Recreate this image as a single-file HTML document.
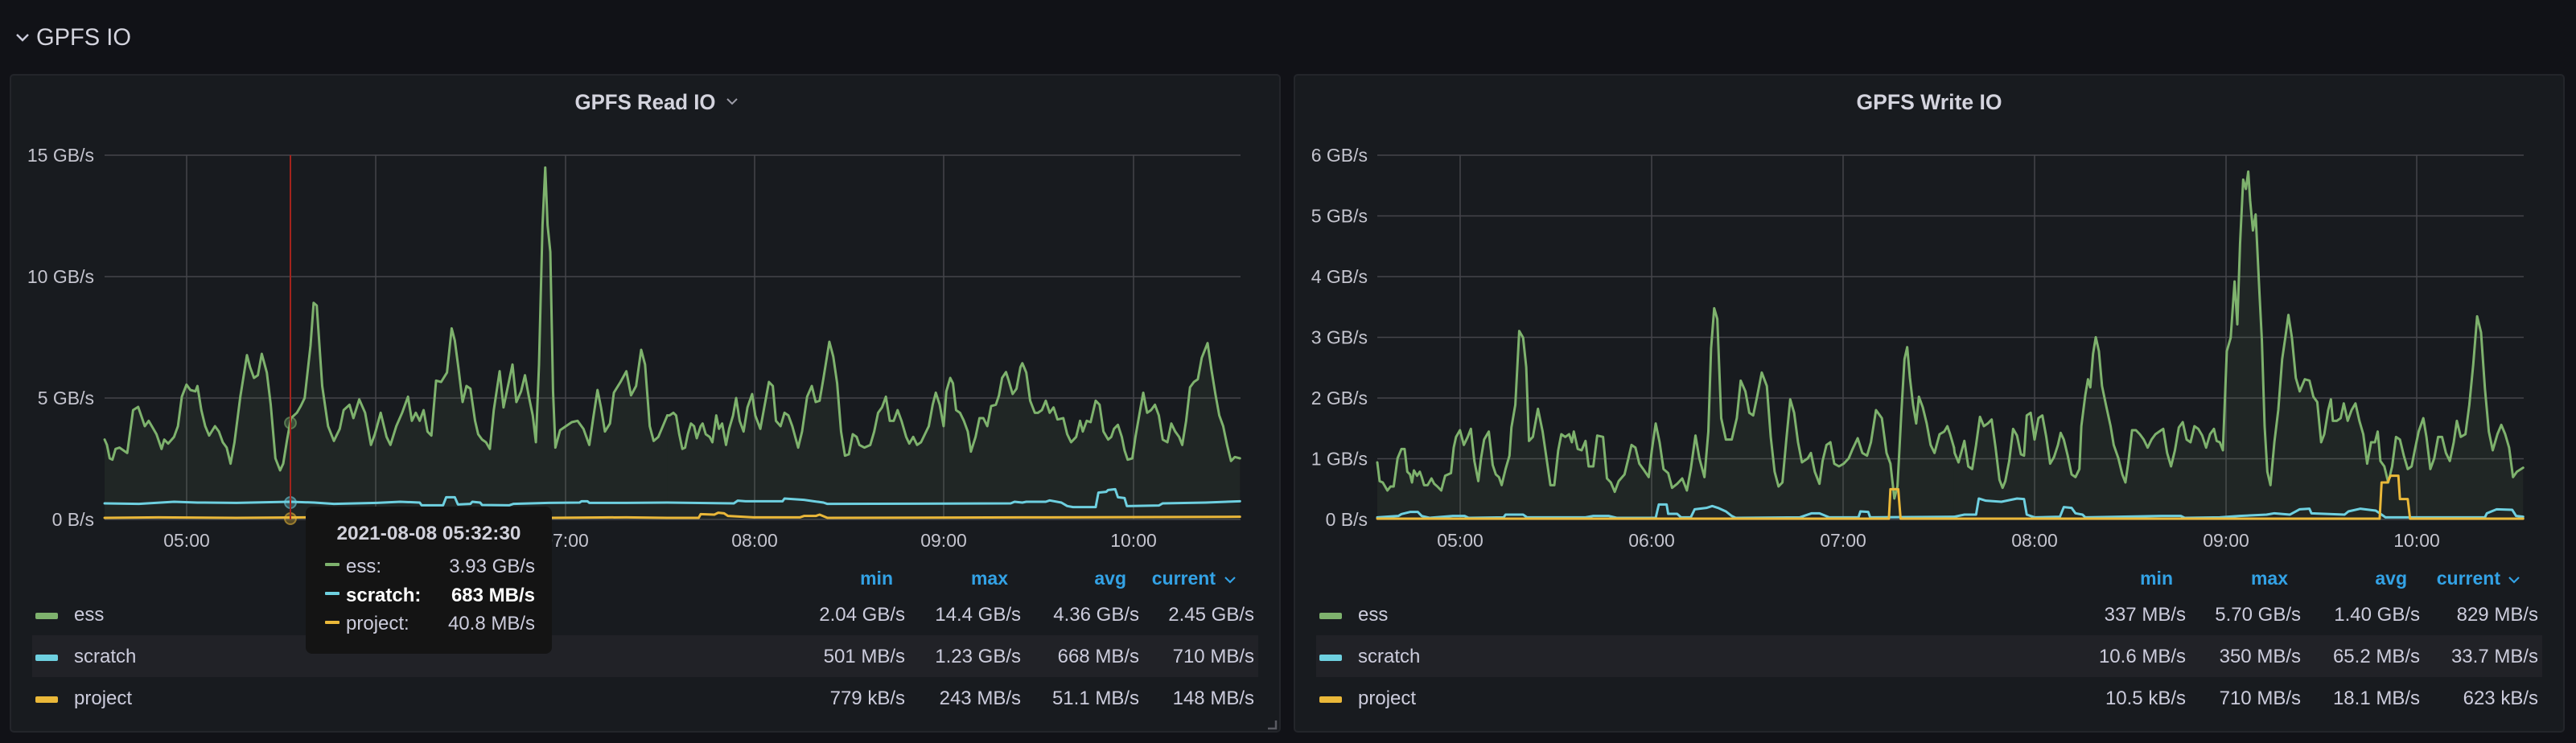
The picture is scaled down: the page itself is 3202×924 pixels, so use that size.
<!DOCTYPE html>
<html>
<head>
<meta charset="utf-8">
<style>
html,body{margin:0;padding:0;background:#111217;}
body{width:3202px;height:924px;overflow:hidden;}
svg{display:block;}
text{font-family:"Liberation Sans",sans-serif;}
.ax{font-size:23px;fill:#c4c4ce;}
.lg{font-size:24px;fill:#ccccdc;}
.hd{font-size:23px;font-weight:bold;fill:#33a2e5;}
.grid{stroke:#44454a;stroke-width:1.5;}
.ln{fill:none;stroke-width:3;stroke-linejoin:round;stroke-linecap:round;vector-effect:non-scaling-stroke;}
</style>
</head>
<body>
<svg width="3202" height="924" viewBox="0 0 3202 924" xmlns="http://www.w3.org/2000/svg">
<rect x="0" y="0" width="3202" height="924" fill="#111217"/>

<!-- Section header -->
<polyline points="21,43 28,50 35,43" fill="none" stroke="#ccccdc" stroke-width="2.5"/>
<text x="45" y="56" font-size="30" fill="#d4d4de" textLength="118" lengthAdjust="spacingAndGlyphs">GPFS IO</text>

<!-- Panels -->
<rect x="13" y="93" width="1578" height="817" rx="4" fill="#181b1f" stroke="#23252a" stroke-width="2"/>
<rect x="1609" y="93" width="1578" height="817" rx="4" fill="#181b1f" stroke="#23252a" stroke-width="2"/>

<!-- Panel titles -->
<text x="802" y="136" text-anchor="middle" font-size="27" font-weight="bold" fill="#d4d4de" textLength="175" lengthAdjust="spacingAndGlyphs">GPFS Read IO</text>
<polyline points="904,123 910,129 916,123" fill="none" stroke="#9d9da8" stroke-width="2"/>
<text x="2398" y="136" text-anchor="middle" font-size="27" font-weight="bold" fill="#d4d4de" textLength="181" lengthAdjust="spacingAndGlyphs">GPFS Write IO</text>

<!-- LEFT grid -->
<g class="grid">
<line x1="130" y1="193" x2="1542" y2="193"/>
<line x1="130" y1="344" x2="1542" y2="344"/>
<line x1="130" y1="495" x2="1542" y2="495"/>
<line x1="130" y1="646" x2="1542" y2="646"/>
<line x1="232" y1="193" x2="232" y2="646"/>
<line x1="467" y1="193" x2="467" y2="646"/>
<line x1="703" y1="193" x2="703" y2="646"/>
<line x1="938" y1="193" x2="938" y2="646"/>
<line x1="1173" y1="193" x2="1173" y2="646"/>
<line x1="1409" y1="193" x2="1409" y2="646"/>
</g>
<!-- RIGHT grid -->
<g class="grid">
<line x1="1712" y1="193" x2="3137" y2="193"/>
<line x1="1712" y1="268.5" x2="3137" y2="268.5"/>
<line x1="1712" y1="344" x2="3137" y2="344"/>
<line x1="1712" y1="419.5" x2="3137" y2="419.5"/>
<line x1="1712" y1="495" x2="3137" y2="495"/>
<line x1="1712" y1="570.5" x2="3137" y2="570.5"/>
<line x1="1712" y1="646" x2="3137" y2="646"/>
<line x1="1815" y1="193" x2="1815" y2="646"/>
<line x1="2053" y1="193" x2="2053" y2="646"/>
<line x1="2291" y1="193" x2="2291" y2="646"/>
<line x1="2529" y1="193" x2="2529" y2="646"/>
<line x1="2767" y1="193" x2="2767" y2="646"/>
<line x1="3004" y1="193" x2="3004" y2="646"/>
</g>

<!-- Y labels left -->
<g class="ax" text-anchor="end">
<text x="117" y="201">15 GB/s</text>
<text x="117" y="352">10 GB/s</text>
<text x="117" y="503">5 GB/s</text>
<text x="117" y="654">0 B/s</text>
</g>
<!-- Y labels right -->
<g class="ax" text-anchor="end">
<text x="1700" y="201">6 GB/s</text>
<text x="1700" y="276.5">5 GB/s</text>
<text x="1700" y="352">4 GB/s</text>
<text x="1700" y="427.5">3 GB/s</text>
<text x="1700" y="503">2 GB/s</text>
<text x="1700" y="578.5">1 GB/s</text>
<text x="1700" y="654">0 B/s</text>
</g>

<!-- X labels -->
<g class="ax" text-anchor="middle">
<text x="232" y="680">05:00</text>
<text x="467" y="680">06:00</text>
<text x="703" y="680">07:00</text>
<text x="938" y="680">08:00</text>
<text x="1173" y="680">09:00</text>
<text x="1409" y="680">10:00</text>
<text x="1815" y="680">05:00</text>
<text x="2053" y="680">06:00</text>
<text x="2291" y="680">07:00</text>
<text x="2529" y="680">08:00</text>
<text x="2767" y="680">09:00</text>
<text x="3004" y="680">10:00</text>
</g>

<!-- LEFT series -->
<g transform="translate(100,170) scale(0.48469,0.33333)">
<path fill="#7eb26d" fill-opacity="0.08" d="M62,1130 L68,1150 L75,1200 L82,1205 L90,1165 L100,1160 L120,1180 L135,1020 L148,1008 L158,1050 L165,1080 L175,1060 L185,1085 L195,1110 L208,1165 L215,1130 L225,1145 L240,1120 L250,1080 L260,970 L272,925 L282,945 L295,950 L300,930 L310,1020 L320,1080 L330,1115 L345,1080 L355,1100 L365,1140 L375,1160 L385,1220 L395,1140 L410,970 L427,815 L435,860 L445,900 L455,890 L465,810 L478,880 L488,1000 L500,1200 L512,1245 L520,1220 L530,1130 L540,1050 L555,1030 L565,1005 L575,975 L590,780 L598,620 L606,630 L620,930 L635,1080 L650,1135 L665,1090 L675,1020 L690,1000 L700,1050 L715,980 L730,1030 L745,1150 L755,1110 L770,1030 L785,1120 L795,1150 L810,1080 L825,1030 L840,970 L850,1060 L860,1030 L870,1060 L880,1020 L890,1100 L900,1115 L912,910 L925,915 L940,880 L952,715 L960,760 L970,870 L980,990 L990,930 L1000,940 L1012,1060 L1020,1110 L1030,1130 L1040,1140 L1050,1165 L1060,1020 L1075,875 L1085,1010 L1095,940 L1108,850 L1118,990 L1130,950 L1140,890 L1150,970 L1160,1040 L1168,1140 L1176,850 L1185,330 L1192,115 L1198,330 L1205,430 L1212,950 L1218,1160 L1230,1095 L1245,1080 L1260,1065 L1275,1060 L1290,1090 L1305,1150 L1315,1050 L1326,945 L1335,1010 L1345,1100 L1358,1070 L1368,955 L1385,915 L1400,875 L1412,965 L1425,930 L1438,795 L1448,850 L1460,1080 L1470,1135 L1482,1120 L1495,1075 L1505,1040 L1505,1428 L62,1428 Z"/>
<path class="ln" stroke="#7eb26d" d="M62,1130 L68,1150 L75,1200 L82,1205 L90,1165 L100,1160 L120,1180 L135,1020 L148,1008 L158,1050 L165,1080 L175,1060 L185,1085 L195,1110 L208,1165 L215,1130 L225,1145 L240,1120 L250,1080 L260,970 L272,925 L282,945 L295,950 L300,930 L310,1020 L320,1080 L330,1115 L345,1080 L355,1100 L365,1140 L375,1160 L385,1220 L395,1140 L410,970 L427,815 L435,860 L445,900 L455,890 L465,810 L478,880 L488,1000 L500,1200 L512,1245 L520,1220 L530,1130 L540,1050 L555,1030 L565,1005 L575,975 L590,780 L598,620 L606,630 L620,930 L635,1080 L650,1135 L665,1090 L675,1020 L690,1000 L700,1050 L715,980 L730,1030 L745,1150 L755,1110 L770,1030 L785,1120 L795,1150 L810,1080 L825,1030 L840,970 L850,1060 L860,1030 L870,1060 L880,1020 L890,1100 L900,1115 L912,910 L925,915 L940,880 L952,715 L960,760 L970,870 L980,990 L990,930 L1000,940 L1012,1060 L1020,1110 L1030,1130 L1040,1140 L1050,1165 L1060,1020 L1075,875 L1085,1010 L1095,940 L1108,850 L1118,990 L1130,950 L1140,890 L1150,970 L1160,1040 L1168,1140 L1176,850 L1185,330 L1192,115 L1198,330 L1205,430 L1212,950 L1218,1160 L1230,1095 L1245,1080 L1260,1065 L1275,1060 L1290,1090 L1305,1150 L1315,1050 L1326,945 L1335,1010 L1345,1100 L1358,1070 L1368,955 L1385,915 L1400,875 L1412,965 L1425,930 L1438,795 L1448,850 L1460,1080 L1470,1135 L1482,1120 L1495,1075 L1505,1040"/>
<path class="ln" stroke="#6ed0e0" d="M62,1368 L150,1370 L240,1362 L300,1365 L400,1366 L538,1362 L600,1365 L650,1370 L760,1366 L820,1362 L870,1365 L875,1375 L930,1375 L938,1345 L960,1345 L968,1372 L1000,1370 L1005,1362 L1025,1365 L1030,1374 L1100,1375 L1110,1370 L1200,1366 L1280,1365 L1285,1360 L1300,1360 L1305,1366 L1400,1366 L1505,1365"/>
<path class="ln" stroke="#eab839" d="M62,1422 L200,1420 L400,1422 L600,1420 L800,1422 L1000,1420 L1200,1422 L1400,1420 L1505,1422"/>
<g transform="translate(1485.6,0)">
<path fill="#7eb26d" fill-opacity="0.08" d="M19.4,1040 L25,1040 L35,1030 L42,1040 L50,1110 L58,1165 L65,1160 L72,1110 L80,1070 L88,1080 L95,1125 L105,1080 L110,1070 L118,1110 L128,1120 L135,1140 L145,1040 L152,1090 L160,1070 L170,1150 L178,1090 L188,1040 L196,975 L205,1060 L215,1100 L225,1010 L237,960 L245,1040 L258,1090 L268,1010 L280,915 L290,930 L298,1060 L310,1080 L320,1030 L330,1040 L340,1080 L355,1160 L365,1100 L378,970 L390,930 L400,990 L410,985 L420,900 L435,765 L445,820 L455,920 L465,1100 L475,1190 L485,1185 L495,1110 L505,1120 L512,1150 L525,1160 L540,1150 L550,1100 L560,1030 L570,1010 L580,970 L590,1060 L600,1060 L610,1020 L620,1060 L632,1120 L640,1145 L650,1120 L660,1150 L670,1140 L680,1110 L690,1080 L700,1000 L708,955 L718,1000 L728,1080 L735,950 L745,900 L752,920 L760,1020 L770,1030 L780,1060 L790,1100 L798,1175 L810,1120 L820,1050 L830,1050 L840,1080 L850,1005 L862,1000 L870,965 L878,900 L888,878 L895,910 L905,960 L915,940 L925,860 L930,845 L940,880 L950,985 L962,1030 L970,1030 L980,1020 L990,985 L1000,1030 L1010,1010 L1020,1055 L1035,1050 L1045,1110 L1055,1140 L1068,1120 L1078,1060 L1085,1100 L1095,1060 L1105,1065 L1118,985 L1128,1000 L1138,1100 L1150,1130 L1158,1120 L1165,1090 L1175,1075 L1185,1120 L1192,1170 L1200,1205 L1212,1200 L1220,1120 L1232,1020 L1240,955 L1250,1030 L1260,1020 L1270,1000 L1280,1040 L1290,1130 L1302,1140 L1312,1070 L1322,1100 L1332,1120 L1340,1150 L1350,1060 L1360,935 L1370,915 L1380,905 L1390,825 L1405,770 L1415,870 L1425,960 L1435,1040 L1445,1080 L1455,1150 L1465,1210 L1475,1195 L1488,1200 L1488,1428 L19.4,1428 Z"/>
<path class="ln" stroke="#7eb26d" d="M19.4,1040 L25,1040 L35,1030 L42,1040 L50,1110 L58,1165 L65,1160 L72,1110 L80,1070 L88,1080 L95,1125 L105,1080 L110,1070 L118,1110 L128,1120 L135,1140 L145,1040 L152,1090 L160,1070 L170,1150 L178,1090 L188,1040 L196,975 L205,1060 L215,1100 L225,1010 L237,960 L245,1040 L258,1090 L268,1010 L280,915 L290,930 L298,1060 L310,1080 L320,1030 L330,1040 L340,1080 L355,1160 L365,1100 L378,970 L390,930 L400,990 L410,985 L420,900 L435,765 L445,820 L455,920 L465,1100 L475,1190 L485,1185 L495,1110 L505,1120 L512,1150 L525,1160 L540,1150 L550,1100 L560,1030 L570,1010 L580,970 L590,1060 L600,1060 L610,1020 L620,1060 L632,1120 L640,1145 L650,1120 L660,1150 L670,1140 L680,1110 L690,1080 L700,1000 L708,955 L718,1000 L728,1080 L735,950 L745,900 L752,920 L760,1020 L770,1030 L780,1060 L790,1100 L798,1175 L810,1120 L820,1050 L830,1050 L840,1080 L850,1005 L862,1000 L870,965 L878,900 L888,878 L895,910 L905,960 L915,940 L925,860 L930,845 L940,880 L950,985 L962,1030 L970,1030 L980,1020 L990,985 L1000,1030 L1010,1010 L1020,1055 L1035,1050 L1045,1110 L1055,1140 L1068,1120 L1078,1060 L1085,1100 L1095,1060 L1105,1065 L1118,985 L1128,1000 L1138,1100 L1150,1130 L1158,1120 L1165,1090 L1175,1075 L1185,1120 L1192,1170 L1200,1205 L1212,1200 L1220,1120 L1232,1020 L1240,955 L1250,1030 L1260,1020 L1270,1000 L1280,1040 L1290,1130 L1302,1140 L1312,1070 L1322,1100 L1332,1120 L1340,1150 L1350,1060 L1360,935 L1370,915 L1380,905 L1390,825 L1405,770 L1415,870 L1425,960 L1435,1040 L1445,1080 L1455,1150 L1465,1210 L1475,1195 L1488,1200"/>
<path class="ln" stroke="#6ed0e0" d="M19.4,1365 L190,1368 L200,1358 L220,1360 L315,1360 L320,1350 L370,1355 L395,1360 L420,1365 L430,1370 L900,1368 L910,1362 L930,1365 L940,1362 L990,1362 L1000,1357 L1030,1365 L1045,1378 L1060,1382 L1118,1382 L1125,1328 L1145,1325 L1150,1318 L1168,1315 L1175,1345 L1192,1348 L1198,1378 L1280,1376 L1290,1368 L1400,1365 L1488,1360"/>
<path class="ln" stroke="#eab839" d="M19.4,1422 L100,1422 L105,1408 L140,1410 L150,1403 L165,1405 L175,1415 L240,1420 L360,1420 L370,1415 L400,1415 L410,1410 L430,1422 L1000,1420 L1488,1418"/>
</g>
</g>

<!-- RIGHT series -->
<g transform="translate(1680,170) scale(0.48469,0.33333)">
<path fill="#7eb26d" fill-opacity="0.08" d="M66,1215 L72,1285 L80,1290 L92,1320 L100,1305 L108,1305 L118,1200 L128,1165 L136,1165 L143,1250 L150,1260 L155,1290 L160,1245 L168,1265 L175,1250 L180,1270 L186,1300 L195,1300 L205,1275 L212,1295 L220,1305 L230,1320 L240,1265 L255,1255 L262,1160 L268,1120 L278,1095 L288,1150 L298,1120 L306,1090 L315,1210 L325,1285 L332,1200 L340,1130 L352,1100 L362,1225 L370,1260 L378,1270 L385,1300 L395,1240 L405,1190 L410,1085 L420,1000 L430,725 L440,750 L448,860 L455,1135 L465,1120 L478,1015 L490,1100 L500,1200 L510,1300 L520,1300 L530,1170 L538,1110 L548,1120 L558,1110 L565,1140 L570,1100 L580,1165 L590,1170 L600,1135 L608,1230 L620,1230 L630,1115 L645,1120 L655,1275 L665,1290 L675,1325 L685,1285 L700,1260 L710,1200 L718,1150 L728,1160 L738,1220 L748,1240 L762,1270 L770,1170 L780,1070 L790,1140 L800,1240 L812,1255 L822,1310 L835,1295 L848,1275 L860,1320 L870,1240 L882,1115 L892,1200 L905,1270 L915,1100 L922,790 L930,640 L938,680 L948,1050 L960,1130 L975,1130 L988,1050 L998,910 L1010,950 L1020,1030 L1030,1040 L1040,970 L1052,880 L1065,930 L1075,1120 L1085,1250 L1095,1305 L1105,1290 L1115,1130 L1125,980 L1135,1030 L1145,1140 L1155,1215 L1170,1200 L1178,1180 L1188,1250 L1200,1295 L1208,1210 L1218,1150 L1228,1140 L1238,1220 L1250,1230 L1262,1220 L1275,1200 L1285,1165 L1298,1125 L1310,1180 L1322,1190 L1332,1140 L1345,1020 L1360,1050 L1372,1180 L1382,1220 L1392,1350 L1400,1305 L1410,1030 L1418,830 L1425,785 L1432,900 L1440,1000 L1448,1070 L1455,970 L1465,1010 L1475,1070 L1485,1150 L1495,1180 L1508,1110 L1520,1100 L1528,1080 L1535,1110 L1545,1160 L1545,1428 L66,1428 Z"/>
<path class="ln" stroke="#7eb26d" d="M66,1215 L72,1285 L80,1290 L92,1320 L100,1305 L108,1305 L118,1200 L128,1165 L136,1165 L143,1250 L150,1260 L155,1290 L160,1245 L168,1265 L175,1250 L180,1270 L186,1300 L195,1300 L205,1275 L212,1295 L220,1305 L230,1320 L240,1265 L255,1255 L262,1160 L268,1120 L278,1095 L288,1150 L298,1120 L306,1090 L315,1210 L325,1285 L332,1200 L340,1130 L352,1100 L362,1225 L370,1260 L378,1270 L385,1300 L395,1240 L405,1190 L410,1085 L420,1000 L430,725 L440,750 L448,860 L455,1135 L465,1120 L478,1015 L490,1100 L500,1200 L510,1300 L520,1300 L530,1170 L538,1110 L548,1120 L558,1110 L565,1140 L570,1100 L580,1165 L590,1170 L600,1135 L608,1230 L620,1230 L630,1115 L645,1120 L655,1275 L665,1290 L675,1325 L685,1285 L700,1260 L710,1200 L718,1150 L728,1160 L738,1220 L748,1240 L762,1270 L770,1170 L780,1070 L790,1140 L800,1240 L812,1255 L822,1310 L835,1295 L848,1275 L860,1320 L870,1240 L882,1115 L892,1200 L905,1270 L915,1100 L922,790 L930,640 L938,680 L948,1050 L960,1130 L975,1130 L988,1050 L998,910 L1010,950 L1020,1030 L1030,1040 L1040,970 L1052,880 L1065,930 L1075,1120 L1085,1250 L1095,1305 L1105,1290 L1115,1130 L1125,980 L1135,1030 L1145,1140 L1155,1215 L1170,1200 L1178,1180 L1188,1250 L1200,1295 L1208,1210 L1218,1150 L1228,1140 L1238,1220 L1250,1230 L1262,1220 L1275,1200 L1285,1165 L1298,1125 L1310,1180 L1322,1190 L1332,1140 L1345,1020 L1360,1050 L1372,1180 L1382,1220 L1392,1350 L1400,1305 L1410,1030 L1418,830 L1425,785 L1432,900 L1440,1000 L1448,1070 L1455,970 L1465,1010 L1475,1070 L1485,1150 L1495,1180 L1508,1110 L1520,1100 L1528,1080 L1535,1110 L1545,1160"/>
<path class="ln" stroke="#6ed0e0" d="M66,1420 L120,1415 L128,1408 L150,1400 L170,1400 L180,1415 L200,1422 L260,1415 L290,1415 L300,1422 L390,1420 L395,1410 L440,1410 L450,1420 L600,1420 L620,1415 L660,1415 L680,1422 L780,1422 L788,1372 L808,1372 L812,1407 L835,1407 L845,1420 L870,1420 L880,1390 L910,1385 L925,1378 L940,1385 L960,1398 L975,1415 L985,1422 L1150,1420 L1180,1405 L1200,1405 L1225,1420 L1300,1420 L1305,1398 L1325,1400 L1330,1420 L1545,1418"/>
<path class="ln" stroke="#eab839" d="M66,1425 L1378,1425 L1382,1315 L1402,1315 L1408,1425 L1545,1425"/>
<g transform="translate(1526.6,0)">
<path fill="#7eb26d" fill-opacity="0.08" d="M18.4,1160 L20,1180 L30,1215 L45,1135 L55,1230 L65,1240 L75,1150 L85,1045 L95,1080 L105,1070 L115,1055 L125,1160 L135,1280 L143,1310 L150,1285 L160,1210 L170,1090 L180,1115 L190,1185 L198,1190 L205,1040 L215,1030 L225,1130 L235,1050 L245,1040 L255,1120 L265,1220 L275,1195 L285,1150 L292,1105 L300,1130 L310,1190 L320,1260 L330,1270 L340,1240 L345,1080 L355,965 L362,905 L368,935 L375,810 L382,748 L390,800 L398,930 L408,1000 L420,1080 L428,1150 L440,1200 L450,1260 L458,1290 L465,1220 L475,1095 L485,1095 L495,1110 L505,1130 L515,1160 L525,1130 L535,1110 L545,1100 L555,1090 L565,1180 L575,1230 L585,1170 L595,1085 L605,1065 L615,1130 L625,1140 L635,1080 L645,1090 L655,1115 L665,1160 L675,1110 L685,1090 L692,1135 L700,1140 L708,1170 L718,800 L728,750 L738,540 L745,700 L752,400 L760,160 L767,195 L773,130 L778,240 L785,350 L792,290 L802,590 L808,760 L815,1080 L822,1250 L830,1300 L840,1140 L850,1020 L860,830 L868,750 L876,665 L885,750 L895,900 L905,950 L918,905 L930,910 L940,970 L950,990 L960,1140 L968,1110 L978,1020 L985,980 L990,1060 L1000,1060 L1010,1050 L1018,995 L1028,1060 L1038,1020 L1048,995 L1058,1060 L1068,1110 L1078,1220 L1088,1140 L1098,1140 L1105,1100 L1112,1210 L1122,1230 L1132,1290 L1142,1230 L1152,1120 L1162,1130 L1172,1190 L1182,1240 L1192,1230 L1200,1170 L1210,1100 L1222,1050 L1230,1120 L1240,1240 L1250,1200 L1260,1120 L1270,1120 L1280,1180 L1290,1210 L1300,1140 L1308,1060 L1318,1120 L1330,1110 L1340,1000 L1350,850 L1360,670 L1370,730 L1380,940 L1390,1100 L1400,1170 L1412,1110 L1422,1075 L1432,1110 L1442,1160 L1452,1270 L1462,1250 L1478,1235 L1478,1428 L18.4,1428 Z"/>
<path class="ln" stroke="#7eb26d" d="M18.4,1160 L20,1180 L30,1215 L45,1135 L55,1230 L65,1240 L75,1150 L85,1045 L95,1080 L105,1070 L115,1055 L125,1160 L135,1280 L143,1310 L150,1285 L160,1210 L170,1090 L180,1115 L190,1185 L198,1190 L205,1040 L215,1030 L225,1130 L235,1050 L245,1040 L255,1120 L265,1220 L275,1195 L285,1150 L292,1105 L300,1130 L310,1190 L320,1260 L330,1270 L340,1240 L345,1080 L355,965 L362,905 L368,935 L375,810 L382,748 L390,800 L398,930 L408,1000 L420,1080 L428,1150 L440,1200 L450,1260 L458,1290 L465,1220 L475,1095 L485,1095 L495,1110 L505,1130 L515,1160 L525,1130 L535,1110 L545,1100 L555,1090 L565,1180 L575,1230 L585,1170 L595,1085 L605,1065 L615,1130 L625,1140 L635,1080 L645,1090 L655,1115 L665,1160 L675,1110 L685,1090 L692,1135 L700,1140 L708,1170 L718,800 L728,750 L738,540 L745,700 L752,400 L760,160 L767,195 L773,130 L778,240 L785,350 L792,290 L802,590 L808,760 L815,1080 L822,1250 L830,1300 L840,1140 L850,1020 L860,830 L868,750 L876,665 L885,750 L895,900 L905,950 L918,905 L930,910 L940,970 L950,990 L960,1140 L968,1110 L978,1020 L985,980 L990,1060 L1000,1060 L1010,1050 L1018,995 L1028,1060 L1038,1020 L1048,995 L1058,1060 L1068,1110 L1078,1220 L1088,1140 L1098,1140 L1105,1100 L1112,1210 L1122,1230 L1132,1290 L1142,1230 L1152,1120 L1162,1130 L1172,1190 L1182,1240 L1192,1230 L1200,1170 L1210,1100 L1222,1050 L1230,1120 L1240,1240 L1250,1200 L1260,1120 L1270,1120 L1280,1180 L1290,1210 L1300,1140 L1308,1060 L1318,1120 L1330,1110 L1340,1000 L1350,850 L1360,670 L1370,730 L1380,940 L1390,1100 L1400,1170 L1412,1110 L1422,1075 L1432,1110 L1442,1160 L1452,1270 L1462,1250 L1478,1235"/>
<path class="ln" stroke="#6ed0e0" d="M18.4,1418 L45,1410 L75,1410 L82,1350 L100,1358 L140,1362 L180,1350 L198,1352 L205,1410 L225,1420 L290,1418 L300,1382 L320,1385 L330,1405 L348,1410 L355,1420 L550,1415 L600,1415 L610,1422 L700,1420 L750,1415 L820,1410 L840,1405 L880,1410 L905,1390 L930,1388 L935,1405 L1020,1410 L1030,1398 L1060,1388 L1100,1395 L1115,1410 L1125,1420 L1380,1420 L1385,1405 L1410,1390 L1450,1392 L1460,1415 L1478,1418"/>
<path class="ln" stroke="#eab839" d="M18.4,1425 L1110,1425 L1115,1290 L1130,1290 L1138,1265 L1158,1265 L1162,1352 L1182,1352 L1188,1425 L1478,1425"/>
</g>
</g>

<!-- Crosshair (left) -->
<circle cx="361" cy="526" r="7" fill="#7eb26d" fill-opacity="0.3" stroke="#7eb26d" stroke-opacity="0.55" stroke-width="2"/>
<circle cx="361" cy="625" r="7" fill="#6ed0e0" fill-opacity="0.3" stroke="#6ed0e0" stroke-opacity="0.55" stroke-width="2"/>
<circle cx="361" cy="645" r="7" fill="#eab839" fill-opacity="0.3" stroke="#eab839" stroke-opacity="0.55" stroke-width="2"/>
<line x1="361" y1="193" x2="361" y2="646" stroke="#a3231c" stroke-width="2"/>

<!-- LEFT legend -->
<rect x="40" y="790" width="1524" height="52" fill="#212227"/>
<g class="hd" text-anchor="end">
<text x="1110" y="727">min</text>
<text x="1253" y="727">max</text>
<text x="1400" y="727">avg</text>
<text x="1511" y="727">current</text>
</g>
<polyline points="1523,718 1529,724 1535,718" fill="none" stroke="#33a2e5" stroke-width="2.2"/>
<rect x="44" y="762" width="28" height="8" rx="2" fill="#7eb26d"/>
<rect x="44" y="814" width="28" height="8" rx="2" fill="#6ed0e0"/>
<rect x="44" y="866" width="28" height="8" rx="2" fill="#eab839"/>
<g class="lg">
<text x="92" y="772">ess</text>
<text x="92" y="824">scratch</text>
<text x="92" y="876">project</text>
</g>
<g class="lg" text-anchor="end">
<text x="1125" y="772">2.04 GB/s</text>
<text x="1269" y="772">14.4 GB/s</text>
<text x="1416" y="772">4.36 GB/s</text>
<text x="1559" y="772">2.45 GB/s</text>
<text x="1125" y="824">501 MB/s</text>
<text x="1269" y="824">1.23 GB/s</text>
<text x="1416" y="824">668 MB/s</text>
<text x="1559" y="824">710 MB/s</text>
<text x="1125" y="876">779 kB/s</text>
<text x="1269" y="876">243 MB/s</text>
<text x="1416" y="876">51.1 MB/s</text>
<text x="1559" y="876">148 MB/s</text>
</g>
<path d="M1586,896 L1586,906 L1576,906" fill="none" stroke="#5a5b62" stroke-width="2.5"/>

<!-- RIGHT legend -->
<rect x="1636" y="790" width="1524" height="52" fill="#212227"/>
<g class="hd" text-anchor="end">
<text x="2701" y="727">min</text>
<text x="2844" y="727">max</text>
<text x="2992" y="727">avg</text>
<text x="3108" y="727">current</text>
</g>
<polyline points="3119,718 3125,724 3131,718" fill="none" stroke="#33a2e5" stroke-width="2.2"/>
<rect x="1640" y="762" width="28" height="8" rx="2" fill="#7eb26d"/>
<rect x="1640" y="814" width="28" height="8" rx="2" fill="#6ed0e0"/>
<rect x="1640" y="866" width="28" height="8" rx="2" fill="#eab839"/>
<g class="lg">
<text x="1688" y="772">ess</text>
<text x="1688" y="824">scratch</text>
<text x="1688" y="876">project</text>
</g>
<g class="lg" text-anchor="end">
<text x="2717" y="772">337 MB/s</text>
<text x="2860" y="772">5.70 GB/s</text>
<text x="3008" y="772">1.40 GB/s</text>
<text x="3155" y="772">829 MB/s</text>
<text x="2717" y="824">10.6 MB/s</text>
<text x="2860" y="824">350 MB/s</text>
<text x="3008" y="824">65.2 MB/s</text>
<text x="3155" y="824">33.7 MB/s</text>
<text x="2717" y="876">10.5 kB/s</text>
<text x="2860" y="876">710 MB/s</text>
<text x="3008" y="876">18.1 MB/s</text>
<text x="3155" y="876">623 kB/s</text>
</g>

<!-- Tooltip -->
<rect x="380" y="630" width="306" height="183" rx="8" fill="#141414"/>
<text x="533" y="671" text-anchor="middle" font-size="24" font-weight="bold" fill="#d0d0da" textLength="229" lengthAdjust="spacingAndGlyphs">2021-08-08 05:32:30</text>
<rect x="404" y="700" width="18" height="4" rx="1" fill="#7eb26d"/>
<rect x="404" y="736" width="18" height="4" rx="1" fill="#6ed0e0"/>
<rect x="404" y="772" width="18" height="4" rx="1" fill="#eab839"/>
<text x="430" y="712" class="lg">ess:</text>
<text x="430" y="748" font-size="24" font-weight="bold" fill="#ffffff">scratch:</text>
<text x="430" y="783" class="lg">project:</text>
<text x="665" y="712" class="lg" text-anchor="end">3.93 GB/s</text>
<text x="665" y="748" font-size="24" font-weight="bold" fill="#ffffff" text-anchor="end">683 MB/s</text>
<text x="665" y="783" class="lg" text-anchor="end">40.8 MB/s</text>
</svg>
</body>
</html>
